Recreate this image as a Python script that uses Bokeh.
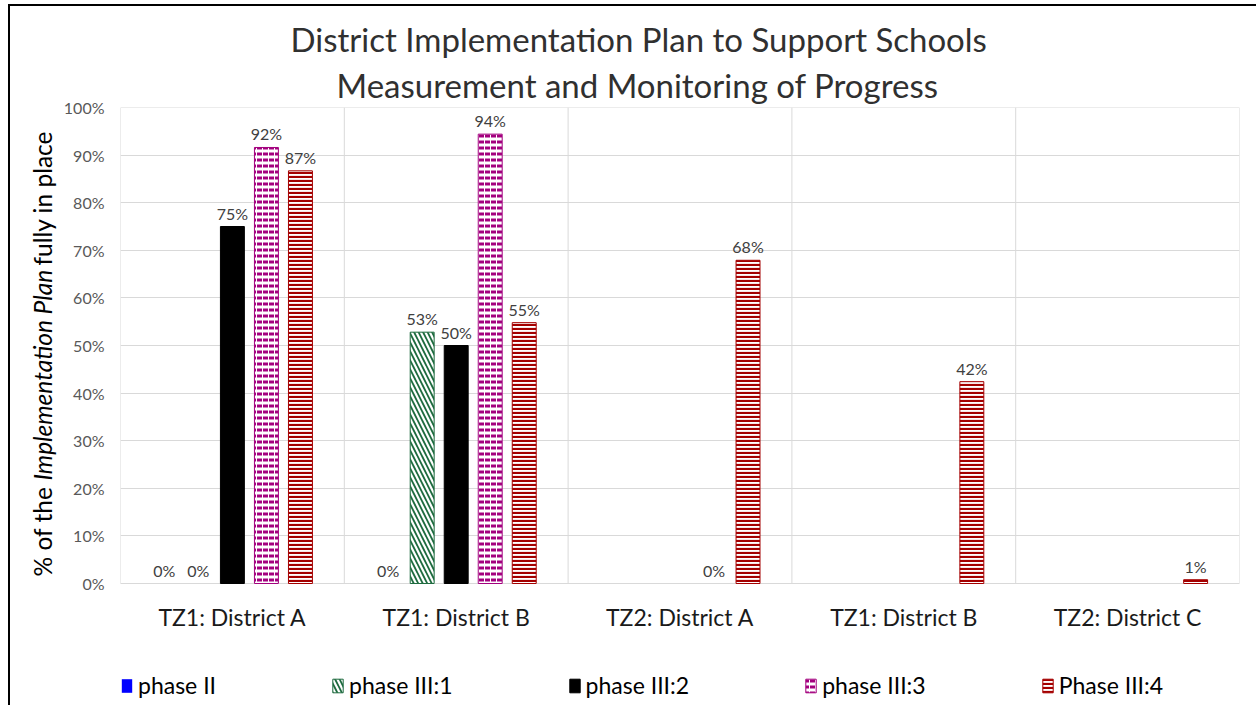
import math
from bokeh.plotting import figure
from bokeh.layouts import row
from bokeh.models import (Range1d, FixedTicker, CustomJSTickFormatter, ColumnDataSource,
                          Label, Legend, LegendItem, Title)
from bokeh.core.properties import value
from bokeh.transform import dodge
from bokeh.embed import file_html
from bokeh.resources import INLINE

# ---------------- data ----------------
categories = ["TZ1: District A", "TZ1: District B", "TZ2: District A",
              "TZ1: District B", "TZ2: District C"]
series_names = ["phase II", "phase III:1", "phase III:2", "phase III:3", "Phase III:4"]
phase_ii = [0, 0, None, None, None]
phase_iii_1 = [0, 52.8, None, None, None]
phase_iii_2 = [75, 50, None, None, None]
phase_iii_3 = [91.6, 94.4, 0, None, None]
phase_iii_4 = [86.7, 54.8, 67.9, 42.4, 0.8]
y_ticks = [0, 10, 20, 30, 40, 50, 60, 70, 80, 90, 100]
title_lines = ["District Implementation Plan to Support Schools",
               "Measurement and Monitoring of Progress"]
ylabel_parts = ["% of the", "Implementation Plan", "fully in place"]

series_values = [phase_ii, phase_iii_1, phase_iii_2, phase_iii_3, phase_iii_4]

FONT = "Lato"
GRID = "#d9d9d9"

# ---------------- layout (pixels) ----------------
QW = 49                          # y-label strip width
W, H = 1197, 699                 # main figure
FL, FT, FW = 61, 101, 1119       # frame left/top border, frame width
PH = 476                         # height of the 0-100 % plot area
FH = 595                         # frame height (plot area + room for labels/legend)
FB = H - FT - FH
y_lo = y_ticks[0] - (y_ticks[-1] - y_ticks[0]) * (FH - PH) / PH

p = figure(width=W, height=H, x_range=Range1d(0, len(categories)),
           y_range=Range1d(y_lo, y_ticks[-1]),
           output_backend="svg", toolbar_location=None, title=None,
           x_axis_location=None,
           min_border_left=FL, min_border_right=W - FL - FW,
           min_border_top=FT, min_border_bottom=FB)
p.background_fill_color = "white"
p.border_fill_color = "white"
p.outline_line_color = None
p.xgrid.visible = False
p.ygrid.grid_line_color = GRID

# y axis
p.yaxis.ticker = FixedTicker(ticks=y_ticks)
p.yaxis.formatter = CustomJSTickFormatter(code="return tick + '%';")
p.yaxis.axis_line_color = None
p.yaxis.major_tick_line_color = None
p.yaxis.minor_tick_line_color = None
p.yaxis.major_label_standoff = 10
p.yaxis.major_label_text_font = FONT
p.yaxis.major_label_text_font_size = "16px"
p.yaxis.major_label_text_color = "#595959"

# plot-area border and category separators
ncat = len(categories)
p.quad(left=[0], right=[ncat], bottom=[y_ticks[0]], top=[y_ticks[-1]],
       fill_color=None, line_color=GRID, line_width=1)
p.segment(x0=list(range(1, ncat)), x1=list(range(1, ncat)),
          y0=[y_ticks[0]] * (ncat - 1), y1=[y_ticks[-1]] * (ncat - 1),
          line_color=GRID, line_width=1)

# category labels
p.text(x=[i + 0.5 for i in range(ncat)], y=[-7.1] * ncat, text=categories,
       text_align="center", text_baseline="middle",
       text_font=value(FONT), text_font_size="23px", text_color="#1a1a1a")

# styles per series
styles = [
    dict(fill_color="#0000ff", line_color=None),
    dict(fill_color="white", line_color="#1e6b3f", hatch_pattern="\\", hatch_color="#1e6b3f",
         hatch_scale=9, hatch_weight=1.8),
    dict(fill_color="black", line_color="black"),
    dict(fill_color="white", line_color="#a3007e", hatch_pattern='"', hatch_color="#a3007e",
         hatch_scale=6, hatch_weight=3),
    dict(fill_color="white", line_color="#a40000", hatch_pattern="-", hatch_color="#a40000",
         hatch_scale=4, hatch_weight=2.2),
]

step = 0.152
bw = 0.107
items = []
for k, (name, vals) in enumerate(zip(series_names, series_values)):
    off = (k - 2) * step
    # bars: zero-height bars draw nothing in the original, so leave them out
    # (a series with only zeros keeps them, as it has no outline to show)
    present = [(i, v) for i, v in enumerate(vals) if v is not None]
    bars = [(i, v) for i, v in present if v > 0] or present
    bsrc = ColumnDataSource(dict(x=[i + 0.5 for i, _ in bars], top=[v for _, v in bars]))
    r = p.vbar(x=dodge("x", off, range=p.x_range), top="top", bottom=0, width=bw,
               source=bsrc, line_width=1, **styles[k])
    # value labels (including the 0% ones)
    lsrc = ColumnDataSource(dict(x=[i + 0.5 for i, _ in present], y=[v for _, v in present],
                                 lbl=[f"{round(v)}%" for _, v in present]))
    p.text(x=dodge("x", off, range=p.x_range), y="y", text="lbl", source=lsrc,
           text_align="center", text_baseline="bottom", y_offset=-4,
           text_font=value(FONT), text_font_size="16px", text_color="#404040")
    items.append(LegendItem(label=name, renderers=[r]))

legend = Legend(items=items, orientation="horizontal", location=(0, 3),
                spacing=115, padding=0, margin=0, border_line_color=None,
                background_fill_alpha=0, glyph_width=13, glyph_height=17,
                label_standoff=5, label_text_font=FONT, label_text_font_size="23px",
                label_text_color="#000000")
p.add_layout(legend)

# two-line title (second line added first: it sits next to the frame)
p.add_layout(Title(text=title_lines[1], align="left", offset=216, standoff=6,
                   text_font=FONT, text_font_size="33px", text_font_style="normal",
                   text_color="#303030"), "above")
p.add_layout(Title(text=title_lines[0], align="left", offset=170, standoff=1,
                   text_font=FONT, text_font_size="33px", text_font_style="normal",
                   text_color="#303030"), "above")

# y-axis label strip with mixed upright / italic text
q = figure(width=QW, height=H, x_range=Range1d(0, 1), y_range=Range1d(0, 1),
           output_backend="svg", toolbar_location=None, title=None,
           x_axis_type=None, y_axis_type=None,
           min_border_left=0, min_border_right=0, min_border_top=FT, min_border_bottom=FB)
q.outline_line_color = None
q.grid.visible = False
q.border_fill_color = "white"
q.background_fill_color = "white"

ylab_sizes = [90, 209]   # run lengths of the first two parts
gap = 6
y0 = 126
starts = [y0, y0 + ylab_sizes[0] + gap, y0 + ylab_sizes[0] + ylab_sizes[1] + 2 * gap]
for part, ys, style in zip(ylabel_parts, starts, ["normal", "italic", "normal"]):
    q.add_layout(Label(x=32, y=ys, x_units="screen", y_units="screen", text=part,
                       angle=math.pi / 2, text_align="left", text_baseline="middle",
                       text_font=FONT, text_font_size="24.5px", text_font_style=style,
                       text_color="#000000"))

layout = row(q, p, spacing=0)
layout.styles = {"margin-left": "8px", "margin-top": "4px",
                 "border-left": "2px solid #000", "border-top": "2px solid #000"}

open("out.html", "w").write(file_html(layout, INLINE))
